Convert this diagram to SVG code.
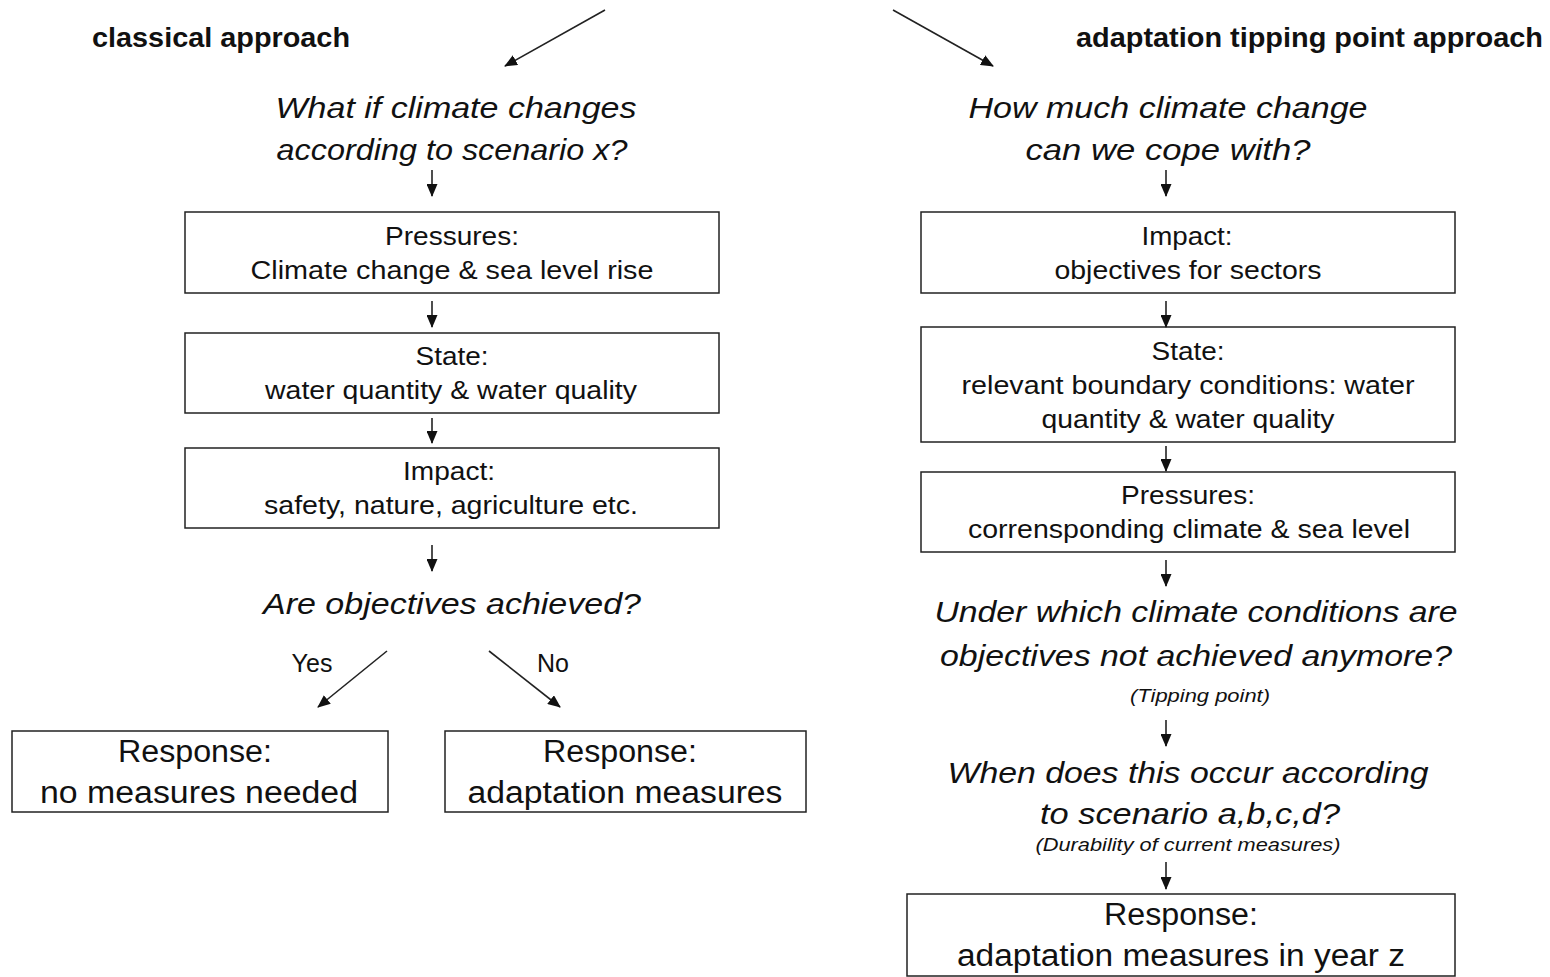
<svg xmlns="http://www.w3.org/2000/svg" width="1550" height="977" viewBox="0 0 1550 977">
<style>
text{font-family:"Liberation Sans",Arial,sans-serif;fill:#111;text-anchor:middle}
.h{font-weight:bold;font-size:27px;text-anchor:start}
.q{font-style:italic;font-size:30px}
.s{font-style:italic;font-size:18px}
.b{font-size:26px}
.r{font-size:31px}
.l{font-size:25px}
rect{fill:#fff;stroke:#222;stroke-width:1.5}
.c line{stroke:#222;stroke-width:1.6;marker-end:url(#a)}
</style>
<defs>
<marker id="a" viewBox="0 0 13 11" refX="12" refY="5.5" markerWidth="13" markerHeight="11" markerUnits="userSpaceOnUse" orient="auto">
<path d="M0,0 L13,5.5 L0,11 z" fill="#111"/>
</marker>
</defs>
<rect x="0" y="0" width="1550" height="977" style="stroke:none"/>
<g id="headings">
<text class="h" x="92" y="47" textLength="258" lengthAdjust="spacingAndGlyphs">classical approach</text>
<text class="h" x="1076" y="47" textLength="467" lengthAdjust="spacingAndGlyphs">adaptation tipping point approach</text>
</g>
<g id="q1">
<text class="q" x="456" y="118" textLength="361" lengthAdjust="spacingAndGlyphs">What if climate changes</text>
<text class="q" x="452" y="160" textLength="351" lengthAdjust="spacingAndGlyphs">according to scenario x?</text>
</g>
<g id="l-pressures"><rect x="185" y="212" width="534" height="81"/>
<text class="b" x="452" y="245" textLength="134" lengthAdjust="spacingAndGlyphs">Pressures:</text>
<text class="b" x="452" y="279" textLength="403" lengthAdjust="spacingAndGlyphs">Climate change &amp; sea level rise</text></g>
<g id="l-state"><rect x="185" y="333" width="534" height="80"/>
<text class="b" x="452" y="365" textLength="73" lengthAdjust="spacingAndGlyphs">State:</text>
<text class="b" x="451" y="399" textLength="372" lengthAdjust="spacingAndGlyphs">water quantity &amp; water quality</text></g>
<g id="l-impact"><rect x="185" y="448" width="534" height="80"/>
<text class="b" x="449" y="480" textLength="92" lengthAdjust="spacingAndGlyphs">Impact:</text>
<text class="b" x="451" y="514" textLength="374" lengthAdjust="spacingAndGlyphs">safety, nature, agriculture etc.</text></g>
<g id="q2"><text class="q" x="452" y="614" textLength="378" lengthAdjust="spacingAndGlyphs">Are objectives achieved?</text></g>
<g id="labels">
<text class="l" x="312" y="672">Yes</text>
<text class="l" x="553" y="672">No</text>
</g>
<g id="l-resp1"><rect x="12" y="731" width="376" height="81"/>
<text class="r" x="195" y="762" textLength="154" lengthAdjust="spacingAndGlyphs">Response:</text>
<text class="r" x="199" y="803" textLength="318" lengthAdjust="spacingAndGlyphs">no measures needed</text></g>
<g id="l-resp2"><rect x="445" y="731" width="361" height="81"/>
<text class="r" x="620" y="762" textLength="154" lengthAdjust="spacingAndGlyphs">Response:</text>
<text class="r" x="625" y="803" textLength="315" lengthAdjust="spacingAndGlyphs">adaptation measures</text></g>
<g id="q3">
<text class="q" x="1168" y="118" textLength="399" lengthAdjust="spacingAndGlyphs">How much climate change</text>
<text class="q" x="1168" y="160" textLength="285" lengthAdjust="spacingAndGlyphs">can we cope with?</text>
</g>
<g id="r-impact"><rect x="921" y="212" width="534" height="81"/>
<text class="b" x="1187" y="245" textLength="91" lengthAdjust="spacingAndGlyphs">Impact:</text>
<text class="b" x="1188" y="279" textLength="267" lengthAdjust="spacingAndGlyphs">objectives for sectors</text></g>
<g id="r-state"><rect x="921" y="327" width="534" height="115"/>
<text class="b" x="1188" y="360" textLength="73" lengthAdjust="spacingAndGlyphs">State:</text>
<text class="b" x="1188" y="394" textLength="453" lengthAdjust="spacingAndGlyphs">relevant boundary conditions: water</text>
<text class="b" x="1188" y="428" textLength="293" lengthAdjust="spacingAndGlyphs">quantity &amp; water quality</text></g>
<g id="r-pressures"><rect x="921" y="472" width="534" height="80"/>
<text class="b" x="1188" y="504" textLength="134" lengthAdjust="spacingAndGlyphs">Pressures:</text>
<text class="b" x="1189" y="538" textLength="442" lengthAdjust="spacingAndGlyphs">corrensponding climate &amp; sea level</text></g>
<g id="q4">
<text class="q" x="1196" y="622" textLength="523" lengthAdjust="spacingAndGlyphs">Under which climate conditions are</text>
<text class="q" x="1196" y="666" textLength="512" lengthAdjust="spacingAndGlyphs">objectives not achieved anymore?</text>
<text class="s" x="1200" y="702" textLength="140" lengthAdjust="spacingAndGlyphs">(Tipping point)</text>
</g>
<g id="q5">
<text class="q" x="1188" y="783" textLength="481" lengthAdjust="spacingAndGlyphs">When does this occur according</text>
<text class="q" x="1190" y="824" textLength="300" lengthAdjust="spacingAndGlyphs">to scenario a,b,c,d?</text>
<text class="s" x="1188" y="851" textLength="305" lengthAdjust="spacingAndGlyphs">(Durability of current measures)</text>
</g>
<g id="r-resp"><rect x="907" y="894" width="548" height="82"/>
<text class="r" x="1181" y="925" textLength="154" lengthAdjust="spacingAndGlyphs">Response:</text>
<text class="r" x="1181" y="966" textLength="448" lengthAdjust="spacingAndGlyphs">adaptation measures in year z</text></g>
<g id="connectors" class="c">
<line x1="605" y1="10" x2="505" y2="66"/>
<line x1="893" y1="10" x2="993" y2="66"/>
<line x1="432" y1="170" x2="432" y2="196"/>
<line x1="432" y1="301" x2="432" y2="327"/>
<line x1="432" y1="418" x2="432" y2="443"/>
<line x1="432" y1="545" x2="432" y2="571"/>
<line x1="387" y1="651" x2="318" y2="707"/>
<line x1="489" y1="651" x2="560" y2="707"/>
<line x1="1166" y1="170" x2="1166" y2="196"/>
<line x1="1166" y1="301" x2="1166" y2="327"/>
<line x1="1166" y1="446" x2="1166" y2="471"/>
<line x1="1166" y1="560" x2="1166" y2="586"/>
<line x1="1166" y1="720" x2="1166" y2="746"/>
<line x1="1166" y1="862" x2="1166" y2="889"/>
</g>
</svg>
